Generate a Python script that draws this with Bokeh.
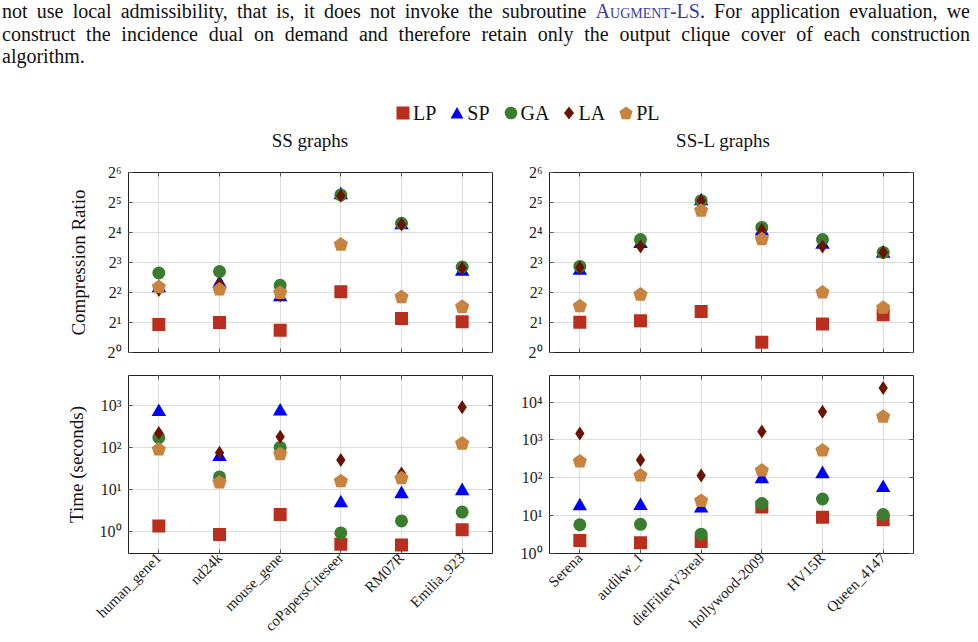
import math

from bokeh.embed import file_html
from bokeh.layouts import column, row
from bokeh.models import (CategoricalAxis, ColumnDataSource, Div, FactorRange,
                          FixedTicker, LogAxis, Ngon, Range1d)
from bokeh.plotting import figure
from bokeh.resources import INLINE

SERIF = "Liberation Serif"

# ---- data -----------------------------------------------------------------
ss_graphs = ["human_gene1", "nd24k", "mouse_gene", "coPapersCiteseer", "RM07R", "Emilia_923"]
ssl_graphs = ["Serena", "audikw_1", "dielFilterV3real", "hollywood-2009", "HV15R", "Queen_4147"]

# compression ratio, SS graphs
ratio_ss_lp = [1.91, 2.00, 1.67, 4.06, 2.19, 2.04]
ratio_ss_sp = [4.44, 4.96, 3.60, 38.1, 19.0, 6.50]
ratio_ss_ga = [6.28, 6.50, 4.72, 38.1, 19.8, 7.21]
ratio_ss_la = [4.23, 4.89, 3.73, 37.5, 19.2, 7.01]
ratio_ss_pl = [4.53, 4.29, 3.97, 12.1, 3.60, 2.87]

# compression ratio, SS-L graphs
ratio_ssl_lp = [2.01, 2.08, 2.58, 1.27, 1.93, 2.39]
ratio_ssl_sp = [6.63, 12.3, 33.1, 16.4, 12.1, 9.85]
ratio_ssl_ga = [7.31, 13.6, 33.4, 18.0, 13.6, 10.1]
ratio_ssl_la = [7.11, 11.6, 33.4, 17.0, 11.6, 10.1]
ratio_ssl_pl = [2.91, 3.81, 26.5, 13.7, 4.00, 2.81]

# running time in seconds, SS graphs
time_ss_lp = [1.38, 0.87, 2.57, 0.51, 0.49, 1.12]
time_ss_sp = [692, 60, 708, 4.8, 7.9, 9.3]
time_ss_ga = [170, 20, 100, 0.95, 1.82, 2.95]
time_ss_la = [219, 75, 178, 50, 24, 891]
time_ss_pl = [89, 14.8, 69, 15.8, 18.6, 123]

# running time in seconds, SS-L graphs
time_ssl_lp = [2.19, 1.91, 2.09, 17.0, 9.1, 7.8]
time_ssl_sp = [17.8, 18.2, 15.5, 93, 126, 54]
time_ssl_ga = [5.75, 5.9, 3.24, 20.9, 27.5, 10.7]
time_ssl_la = [1479, 295, 115, 1660, 5495, 23442]
time_ssl_pl = [269, 115, 24.5, 155, 525, 4074]

series_names = ["LP", "SP", "GA", "LA", "PL"]
panel_titles = ["SS graphs", "SS-L graphs"]

ratio_ticks = [1, 2, 4, 8, 16, 32, 64]
ratio_tick_labels = ["2⁰", "2¹", "2²", "2³", "2⁴", "2⁵", "2⁶"]
time_ticks_ss = [1, 10, 100, 1000]
time_tick_labels_ss = ["10⁰", "10¹", "10²", "10³"]
time_ticks_ssl = [1, 10, 100, 1000, 10000]
time_tick_labels_ssl = ["10⁰", "10¹", "10²", "10³", "10⁴"]

# ---- styles ---------------------------------------------------------------
STYLE = {
    "LP": dict(marker="square", size=13, color="#BA2E1E"),
    "SP": dict(marker="triangle", size=14.5, color="#0000FF"),
    "GA": dict(marker="circle", size=13, color="#3A7D2E"),
    "LA": dict(marker="diamond", size=14, color="#6B1300"),
    "PL": dict(marker="pentagon", size=7.5, color="#C8843F"),
}

LEFT_W, RIGHT_W = 505, 473
TOP_H, BOTTOM_H = 212, 272


def style_axis(axis, show_labels, font_size="16px"):
    axis.axis_line_color = None
    axis.major_tick_in = 4
    axis.major_tick_out = 0
    axis.major_tick_line_color = "#555555"
    axis.minor_tick_line_color = None
    if show_labels:
        axis.major_label_text_font = SERIF
        axis.major_label_text_font_size = font_size
        axis.major_label_text_color = "#222222"
    else:
        # tick marks only
        axis.major_label_text_font_size = "1px"
        axis.major_label_text_color = None
        axis.major_label_standoff = 0


def make_panel(cats, values, y_lo, y_hi, ticks, tick_labels, side, top,
               ylabel=None, ylabel_standoff=10):
    width = LEFT_W if side == "left" else RIGHT_W
    height = TOP_H if top else BOTTOM_H
    p = figure(
        width=width, height=height,
        x_range=FactorRange(factors=cats),
        y_range=Range1d(y_lo, y_hi), y_axis_type="log",
        output_backend="svg", toolbar_location=None,
        min_border_left=128 if side == "left" else 44,
        min_border_right=13 if side == "left" else 65,
        min_border_top=14 if top else 5,
        min_border_bottom=18 if top else 87,
        background_fill_color="white", border_fill_color="white",
        outline_line_color="#222222", outline_line_width=1,
    )

    p.add_layout(LogAxis(), "right")
    p.add_layout(CategoricalAxis(), "above")

    tick_src = FixedTicker(ticks=ticks)
    for ax in p.yaxis:
        ax.ticker = tick_src
    p.ygrid.ticker = tick_src

    # left axis with labels, right axis ticks only
    style_axis(p.left[0], True)
    p.left[0].major_label_overrides = dict(zip(ticks, tick_labels))
    p.left[0].major_label_standoff = 7
    style_axis(p.right[0], False)

    # bottom axis: category names on the lower row only
    style_axis(p.below[0], not top, font_size="15px")
    if not top:
        p.below[0].major_label_orientation = math.pi / 4
        p.below[0].major_label_standoff = 2
    style_axis(p.above[0], False)

    if ylabel:
        p.left[0].axis_label = ylabel
        p.left[0].axis_label_text_font = SERIF
        p.left[0].axis_label_text_font_size = "19px"
        p.left[0].axis_label_text_font_style = "normal"
        p.left[0].axis_label_text_color = "#111111"
        p.left[0].axis_label_standoff = ylabel_standoff

    p.xgrid.grid_line_color = "#dddddd"
    p.ygrid.grid_line_color = "#dddddd"

    for name in series_names:
        st = STYLE[name]
        src = ColumnDataSource(dict(x=cats, y=values[name]))
        if st["marker"] == "pentagon":
            p.add_glyph(src, Ngon(x="x", y="y", radius=st["size"], radius_units="screen",
                                  n=5, fill_color=st["color"], line_color=None))
        else:
            p.scatter(x="x", y="y", source=src, marker=st["marker"], size=st["size"],
                      fill_color=st["color"], line_color=None)
    return p


ratio_ss = dict(LP=ratio_ss_lp, SP=ratio_ss_sp, GA=ratio_ss_ga, LA=ratio_ss_la, PL=ratio_ss_pl)
ratio_ssl = dict(LP=ratio_ssl_lp, SP=ratio_ssl_sp, GA=ratio_ssl_ga, LA=ratio_ssl_la, PL=ratio_ssl_pl)
time_ss = dict(LP=time_ss_lp, SP=time_ss_sp, GA=time_ss_ga, LA=time_ss_la, PL=time_ss_pl)
time_ssl = dict(LP=time_ssl_lp, SP=time_ssl_sp, GA=time_ssl_ga, LA=time_ssl_la, PL=time_ssl_pl)

p_tl = make_panel(ss_graphs, ratio_ss, 1, 64, ratio_ticks, ratio_tick_labels, "left", True,
                  ylabel="Compression Ratio", ylabel_standoff=16)
p_tr = make_panel(ssl_graphs, ratio_ssl, 1, 64, ratio_ticks, ratio_tick_labels, "right", True)
p_bl = make_panel(ss_graphs, time_ss, 10 ** -0.51, 10 ** 3.70, time_ticks_ss, time_tick_labels_ss,
                  "left", False, ylabel="Time (seconds)", ylabel_standoff=10)
p_br = make_panel(ssl_graphs, time_ssl, 1, 10 ** 4.70, time_ticks_ssl, time_tick_labels_ssl,
                  "right", False)

# ---- running text, legend and column headings ----------------------------
para_html = f"""
<div style="font-family:'{SERIF}'; font-size:20px; line-height:22.7px; color:#111; width:970px; padding-left:2px;">
  <div style="text-align:justify; text-align-last:justify;">not use local admissibility, that is, it does not invoke the subroutine <span style="font-variant:small-caps; color:#3c3ca8;">Augment-LS</span>. For application evaluation, we</div>
  <div style="text-align:justify; text-align-last:justify;">construct the incidence dual on demand and therefore retain only the output clique cover of each construction</div>
  <div>algorithm.</div>
</div>
"""
paragraph = Div(text=para_html, width=978, height=90, margin=(0, 0, 0, 0))

icons = {
    "LP": '<svg width="14" height="14"><rect x="0.5" y="0.5" width="13" height="13" fill="#BA2E1E"/></svg>',
    "SP": '<svg width="14" height="14"><polygon points="7,1 13.5,12.5 0.5,12.5" fill="#0000FF"/></svg>',
    "GA": '<svg width="14" height="14"><circle cx="7" cy="7" r="6.3" fill="#3A7D2E"/></svg>',
    "LA": '<svg width="12" height="14"><polygon points="6,0.5 11,7 6,13.5 1,7" fill="#6B1300"/></svg>',
    "PL": '<svg width="14" height="14"><polygon points="7,0.5 13.6,5.3 11.1,13.2 2.9,13.2 0.4,5.3" fill="#C8843F"/></svg>',
}
legend_items = "".join(
    f'<span style="display:inline-flex; align-items:center; margin-right:14px;">{icons[n]}'
    f'<span style="margin-left:3px;">{n}</span></span>'
    for n in series_names
)
legend_html = (
    f'<div style="height:38px; box-sizing:border-box; padding-top:8px; padding-left:396px; '
    f'display:flex; align-items:center; font-family:\'{SERIF}\'; font-size:20px; color:#111;">'
    f'{legend_items}</div>'
)
legend = Div(text=legend_html, width=978, height=38, margin=(0, 0, 0, 0))

headings_html = (
    f'<div style="position:relative; width:978px; height:30px; font-family:\'{SERIF}\'; '
    f'font-size:19px; line-height:26px; color:#111;">'
    f'<div style="position:absolute; left:0; top:0; width:620px; text-align:center;">{panel_titles[0]}</div>'
    f'<div style="position:absolute; left:468px; top:0; width:510px; text-align:center;">{panel_titles[1]}</div>'
    f'</div>'
)
headings = Div(text=headings_html, width=978, height=30, margin=(0, 0, 0, 0))

layout = column(
    paragraph,
    legend,
    headings,
    row(p_tl, p_tr, spacing=0),
    row(p_bl, p_br, spacing=0),
    spacing=0,
)

with open("out.html", "w") as f:
    f.write(file_html(layout, INLINE))
